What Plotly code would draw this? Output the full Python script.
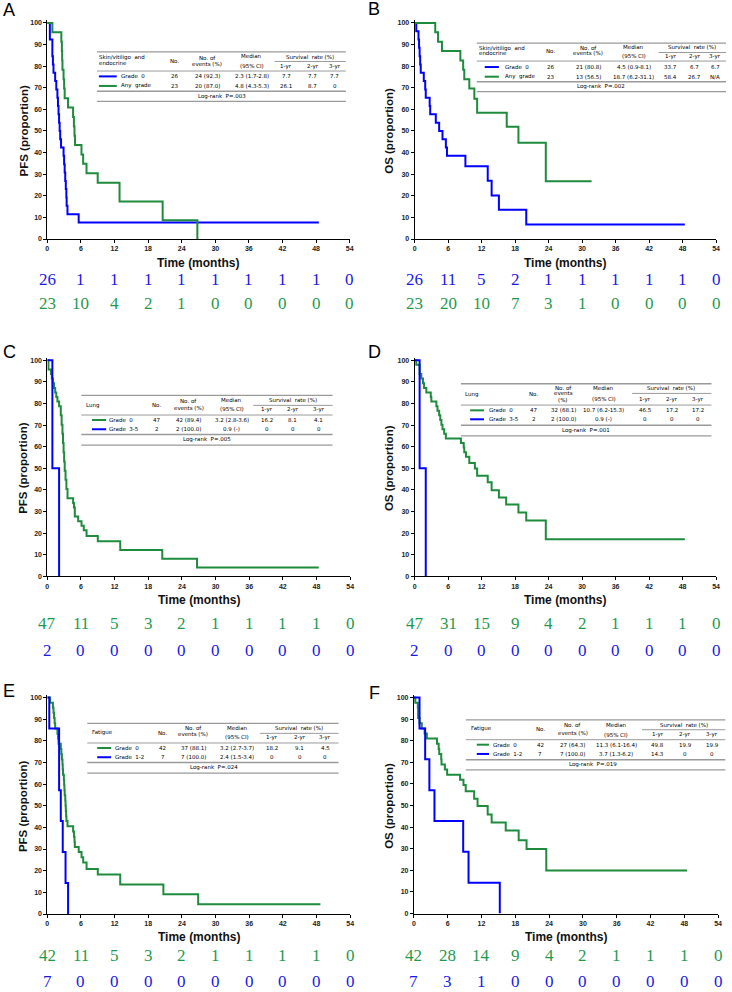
import plotly.graph_objects as go

W, H = 732, 992

# ---------------- DATA ----------------
time_ticks = [0, 6, 12, 18, 24, 30, 36, 42, 48, 54]
surv_ticks = [0, 10, 20, 30, 40, 50, 60, 70, 80, 90, 100]

# Panel A (PFS, skin/vitiligo & endocrine)
A_g0_t = [0, 0.45, 0.9, 1.0, 1.1, 1.4, 1.6, 1.8, 1.9, 2.0, 2.1, 2.2, 2.3, 2.45, 2.9, 3.0, 3.1, 3.2, 3.3, 3.4, 3.45, 3.6, 5.6, 48.5]
A_g0_s = [100, 92.3, 84.6, 80.8, 76.9, 73.1, 69.2, 65.4, 61.5, 57.7, 53.8, 50.0, 46.2, 42.3, 38.5, 34.6, 30.8, 26.9, 23.1, 19.2, 15.4, 11.5, 7.7, 7.7]
A_any_t = [0, 0.9, 2.5, 2.6, 2.65, 2.7, 2.9, 3.0, 3.1, 3.7, 4.6, 4.75, 4.85, 4.95, 6.1, 6.4, 7.0, 9.0, 12.9, 20.6, 26.8]
A_any_s = [100, 95.7, 91.3, 87.0, 82.6, 78.3, 73.9, 69.6, 65.2, 60.9, 56.5, 52.2, 47.8, 43.5, 39.1, 34.8, 30.4, 26.1, 17.4, 8.7, 0]
A_risk_g0 = [26, 1, 1, 1, 1, 1, 1, 1, 1, 0]
A_risk_any = [23, 10, 4, 2, 1, 0, 0, 0, 0, 0]

# Panel B (OS, skin/vitiligo & endocrine)
B_g0_t = [0, 0.3, 0.7, 0.8, 0.9, 1.0, 1.1, 1.65, 1.9, 2.0, 2.7, 2.8, 3.8, 4.4, 5.0, 5.6, 5.8, 9.1, 13.1, 13.8, 15.1, 20.0, 48.4]
B_g0_s = [100, 96.2, 92.3, 88.5, 84.6, 80.8, 76.9, 73.1, 69.2, 65.4, 61.5, 57.7, 53.8, 50.0, 46.2, 42.3, 38.5, 33.7, 27.0, 20.2, 13.5, 6.7, 6.7]
B_any_t = [0, 3.7, 4.2, 4.9, 8.2, 8.7, 8.9, 9.8, 10.7, 11.2, 16.5, 18.6, 23.5, 31.7]
B_any_s = [100, 95.7, 91.3, 87.0, 82.6, 78.3, 73.9, 69.6, 64.9, 58.4, 51.9, 44.5, 26.7, 26.7]
B_risk_g0 = [26, 11, 5, 2, 1, 1, 1, 1, 1, 0]
B_risk_any = [23, 20, 10, 7, 3, 1, 0, 0, 0, 0]

# Panel C (PFS, lung)
C_g0_t = [0, 0.2, 0.65, 0.8, 1.0, 1.2, 1.4, 1.6, 1.8, 2.1, 2.4, 2.55, 2.7, 2.8, 2.9, 3.0, 3.1, 3.25, 3.4, 3.6, 4.6, 4.75, 4.9, 5.5, 6.1, 6.5, 7.0, 9.0, 13.0, 20.5, 26.7, 48.4]
C_g0_s = [100, 95.7, 93.6, 91.5, 89.4, 87.2, 85.1, 83.0, 80.9, 78.7, 74.5, 70.2, 66.0, 61.7, 57.4, 53.2, 48.9, 44.7, 40.4, 36.2, 34.0, 31.9, 27.7, 25.5, 23.4, 21.3, 18.7, 16.2, 12.2, 8.1, 4.1, 4.1]
C_g35_t = [0, 0.9, 2.1]
C_g35_s = [100, 50, 0]
C_risk_g0 = [47, 11, 5, 3, 2, 1, 1, 1, 1, 0]
C_risk_g35 = [2, 0, 0, 0, 0, 0, 0, 0, 0, 0]

# Panel D (OS, lung)
D_g0_t = [0, 0.3, 0.9, 1.2, 1.5, 1.7, 2.1, 2.9, 3.0, 3.9, 4.1, 4.4, 4.6, 4.8, 5.0, 5.3, 5.6, 8.3, 8.8, 8.9, 9.2, 9.8, 10.8, 11.2, 13.1, 13.8, 15.1, 16.4, 18.6, 20.0, 23.5, 48.4]
D_g0_s = [100, 97.9, 93.6, 91.5, 89.4, 87.2, 85.1, 83.0, 80.9, 78.7, 76.6, 74.5, 72.3, 70.2, 68.1, 66.0, 63.8, 61.7, 59.6, 57.4, 55.3, 52.5, 49.9, 46.5, 43.5, 39.9, 36.5, 33.2, 29.5, 25.9, 17.2, 17.2]
D_g35_t = [0, 0.9, 2.0]
D_g35_s = [100, 50, 0]
D_risk_g0 = [47, 31, 15, 9, 4, 2, 1, 1, 1, 0]
D_risk_g35 = [2, 0, 0, 0, 0, 0, 0, 0, 0, 0]

# Panel E (PFS, fatigue)
E_g0_t = [0, 0.5, 1.0, 1.1, 1.2, 1.3, 1.4, 1.8, 1.9, 2.0, 2.4, 2.5, 2.6, 2.7, 2.75, 2.8, 2.95, 3.0, 3.05, 3.1, 3.2, 3.25, 3.3, 3.35, 3.4, 3.6, 4.6, 4.75, 4.85, 4.9, 5.6, 6.1, 6.4, 7.0, 9.0, 13.0, 20.7, 26.9, 48.7]
E_g0_s = [100, 97.6, 95.2, 92.9, 90.5, 88.1, 85.7, 83.3, 81.0, 78.6, 76.2, 73.8, 71.4, 69.0, 66.7, 64.3, 61.9, 59.5, 57.1, 54.8, 52.4, 50.0, 47.6, 45.2, 42.9, 40.5, 38.1, 35.7, 33.3, 31.0, 28.6, 26.2, 23.8, 20.8, 18.2, 13.6, 9.1, 4.5, 4.5]
E_g12_t = [0, 0.35, 2.1, 2.4, 2.75, 3.25, 3.7]
E_g12_s = [100, 85.7, 57.1, 42.9, 28.6, 14.3, 0]
E_risk_g0 = [42, 11, 5, 3, 2, 1, 1, 1, 1, 0]
E_risk_g12 = [7, 0, 0, 0, 0, 0, 0, 0, 0, 0]

# Panel F (OS, fatigue)
F_g0_t = [0, 0.25, 0.7, 0.75, 1.0, 1.4, 1.9, 2.3, 4.1, 4.4, 4.5, 4.85, 4.9, 5.5, 5.9, 8.2, 8.8, 9.2, 10.7, 11.3, 13.1, 13.8, 16.3, 18.6, 20.0, 23.5, 48.5]
F_g0_s = [100, 97.6, 95.2, 90.5, 88.1, 85.7, 83.3, 81.0, 78.6, 76.2, 73.8, 71.4, 69.0, 66.7, 64.3, 61.9, 59.5, 56.6, 53.2, 49.8, 45.9, 42.2, 38.4, 34.0, 29.9, 19.9, 19.9]
F_g12_t = [0, 1.0, 2.0, 2.75, 3.65, 8.75, 9.7, 15.25]
F_g12_s = [100, 85.7, 71.4, 57.1, 42.9, 28.6, 14.3, 0]
F_risk_g0 = [42, 28, 14, 9, 4, 2, 1, 1, 1, 0]
F_risk_g12 = [7, 3, 1, 0, 0, 0, 0, 0, 0, 0]

# Table contents
A_title = ["Skin/vitiligo  and", "endocrine"]
A_rows = [["Grade  0", "26", "24 (92.3)", "2.3 (1.7-2.8)", "7.7", "7.7", "7.7"],
          ["Any  grade", "23", "20 (87.0)", "4.8 (4.3-5.3)", "26.1", "8.7", "0"]]
A_p = "Log-rank  P=.003"
B_title = ["Skin/vitiligo  and", "endocrine"]
B_rows = [["Grade  0", "26", "21 (80.8)", "4.5 (0.9-8.1)", "33.7", "6.7", "6.7"],
          ["Any  grade", "23", "13 (56.5)", "18.7 (6.2-31.1)", "58.4", "26.7", "N/A"]]
B_p = "Log-rank  P=.002"
C_title = ["Lung"]
C_rows = [["Grade  0", "47", "42 (89.4)", "3.2 (2.8-3.6)", "16.2", "8.1", "4.1"],
          ["Grade  3-5", "2", "2 (100.0)", "0.9 (-)", "0", "0", "0"]]
C_p = "Log-rank  P=.005"
D_title = ["Lung"]
D_rows = [["Grade  0", "47", "32 (68.1)", "10.7 (6.2-15.3)", "46.5", "17.2", "17.2"],
          ["Grade  3-5", "2", "2 (100.0)", "0.9 (-)", "0", "0", "0"]]
D_p = "Log-rank  P=.001"
E_title = ["Fatigue"]
E_rows = [["Grade  0", "42", "37 (88.1)", "3.2 (2.7-3.7)", "18.2", "9.1", "4.5"],
          ["Grade  1-2", "7", "7 (100.0)", "2.4 (1.5-3.4)", "0", "0", "0"]]
E_p = "Log-rank  P=.024"
F_title = ["Fatigue"]
F_rows = [["Grade  0", "42", "27 (64.3)", "11.3 (6.1-16.4)", "49.8", "19.9", "19.9"],
          ["Grade  1-2", "7", "7 (100.0)", "3.7 (1.3-6.2)", "14.3", "0", "0"]]
F_p = "Log-rank  P=.019"

# ---------------- STYLE / LAYOUT ----------------
BLUE = "#0000ff"
GREEN = "#1e8c3c"
BLUE_T = "#1a1ae6"
GREEN_T = "#1f9a4c"
TBL_FONT = dict(family="DejaVu Sans", size=5.5, color="#000000")


def fx(p):
    return p / W


def fy(p):
    return 1 - p / H


panels = [
    dict(label="A", lab=(7, 9), yt="PFS (proportion)", ytx=21.7,
         box=(45.7, 350.5, 22, 239), timey=263,
         curves=[(A_g0_t, A_g0_s, BLUE), (A_any_t, A_any_s, GREEN)],
         risk=[(A_risk_g0, BLUE_T, 279.5), (A_risk_any, GREEN_T, 304)],
         tbl=dict(title=A_title, rows=A_rows, p=A_p, colors=[BLUE, GREEN],
                  left=95.7, right=346.7, top=51, title_x=96.7, title_y=[57.0, 62.0],
                  no=(174, [60.7]), ev=(206.7, ["No. of", "events (%)"], [57.3, 63]),
                  med=(252, [55.7, 65]), sv=(311, 56), sub=(60.7, 275),
                  yrs=[286.7, 313.3, 335.7], yry=65.3, hline=70.3, rows_y=[75.7, 85.3],
                  leg=(97.7, 115.7), labx=119, line2=90.7, px=221.7, py=95.5, bottom=100.7)),
    dict(label="B", lab=(375, 8), yt="OS (proportion)", ytx=390,
         box=(416, 720, 22, 239), timey=263,
         curves=[(B_g0_t, B_g0_s, BLUE), (B_any_t, B_any_s, GREEN)],
         risk=[(B_risk_g0, BLUE_T, 279.5), (B_risk_any, GREEN_T, 304)],
         tbl=dict(title=B_title, rows=B_rows, p=B_p, colors=[BLUE, GREEN],
                  left=478.7, right=730, top=42.3, title_x=479.7, title_y=[47.5, 52.5],
                  no=(552.7, [50]), ev=(591, ["No. of", "events (%)"], [47.5, 52.5]),
                  med=(637, [46, 55.7]), sv=(696, 46), sub=(51.7, 662),
                  yrs=[674.3, 698.3, 719.3], yry=55.7, hline=60.3, rows_y=[66.3, 76],
                  leg=(486.7, 501), labx=506, line2=81, px=604.3, py=85.7, bottom=91)),
    dict(label="C", lab=(7.5, 352), yt="PFS (proportion)", ytx=21.7,
         box=(45.7, 351, 360.7, 577.7), timey=601.7,
         curves=[(C_g0_t, C_g0_s, GREEN), (C_g35_t, C_g35_s, BLUE)],
         risk=[(C_risk_g0, GREEN_T, 625), (C_risk_g35, BLUE_T, 652.5)],
         tbl=dict(title=C_title, rows=C_rows, p=C_p, colors=[GREEN, BLUE],
                  left=80, right=333.3, top=396, title_x=83.3, title_y=[405.7],
                  no=(156, [405.7]), ev=(188.3, ["No. of", "events (%)"], [401.3, 408.7]),
                  med=(231.7, [400.7, 410]), sv=(293.3, 400.7), sub=(406, 253.3),
                  yrs=[266.7, 293.3, 319.3], yry=410, hline=415.7, rows_y=[420.7, 430],
                  leg=(90.7, 105), labx=107.3, line2=435.3, px=206.7, py=440.7, bottom=446)),
    dict(label="D", lab=(376, 352), yt="OS (proportion)", ytx=391,
         box=(416, 720, 360.7, 577.7), timey=601.7,
         curves=[(D_g0_t, D_g0_s, GREEN), (D_g35_t, D_g35_s, BLUE)],
         risk=[(D_risk_g0, GREEN_T, 625), (D_risk_g35, BLUE_T, 652.5)],
         tbl=dict(title=D_title, rows=D_rows, p=D_p, colors=[GREEN, BLUE],
                  left=462.7, right=715.3, top=384.3, title_x=466, title_y=[395],
                  no=(536, [395]), ev=(566, ["No. of", "events", "(%)"], [388.3, 394.0, 400.5]),
                  med=(606.5, [388.3, 400]), sv=(674.3, 389), sub=(394, 635.3),
                  yrs=[648.7, 676, 702], yry=400, hline=405.7, rows_y=[411, 420],
                  leg=(472, 486), labx=490, line2=426, px=589.3, py=431.3, bottom=436.7)),
    dict(label="E", lab=(7.5, 693), yt="PFS (proportion)", ytx=20.5,
         box=(45.7, 351, 699.3, 916.7), timey=940,
         curves=[(E_g0_t, E_g0_s, GREEN), (E_g12_t, E_g12_s, BLUE)],
         risk=[(E_risk_g0, GREEN_T, 958.5), (E_risk_g12, BLUE_T, 984.5)],
         tbl=dict(title=E_title, rows=E_rows, p=E_p, colors=[GREEN, BLUE],
                  left=86, right=339.3, top=725.3, title_x=89.3, title_y=[734.7],
                  no=(162.3, [734.7]), ev=(192.7, ["No. of", "events (%)"], [730.3, 735.9]),
                  med=(237.3, [730, 739.3]), sv=(299.3, 730), sub=(735.3, 260),
                  yrs=[272.7, 300, 326], yry=739.7, hline=745, rows_y=[750, 759.3],
                  leg=(96, 110), labx=113.3, line2=764.7, px=213.3, py=770, bottom=775.3)),
    dict(label="F", lab=(376, 695), yt="OS (proportion)", ytx=389.5,
         box=(415.3, 722, 699.3, 916.3), timey=940,
         curves=[(F_g0_t, F_g0_s, GREEN), (F_g12_t, F_g12_s, BLUE)],
         risk=[(F_risk_g0, GREEN_T, 958.5), (F_risk_g12, BLUE_T, 984.5)],
         tbl=dict(title=F_title, rows=F_rows, p=F_p, colors=[GREEN, BLUE],
                  left=467.7, right=729.3, top=721.7, title_x=472, title_y=[730.7],
                  no=(542.7, [730.7]), ev=(575.3, ["No. of", "events (%)"], [727.3, 735]),
                  med=(619.3, [726.7, 736.7]), sv=(687.7, 726.7), sub=(731.7, 645.3),
                  yrs=[661, 688.7, 716], yry=736.7, hline=741.7, rows_y=[746.7, 756],
                  leg=(478.7, 491), labx=494.3, line2=761.7, px=596, py=766.7, bottom=772)),
]

fig = go.Figure()
annotations = []
shapes = []
layout_axes = {}


def ann(text, x, y, font, xref="paper", anchor="center", angle=0):
    annotations.append(dict(text=text, x=x, y=y, xref=xref, yref="paper", showarrow=False,
                            xanchor=anchor, yanchor="middle", textangle=angle, font=font,
                            borderpad=0))


for i, pn in enumerate(panels, start=1):
    x0, x1, yt, yb = pn["box"]
    unit = (yb - yt) / 100.0
    xa = "xaxis" if i == 1 else f"xaxis{i}"
    ya = "yaxis" if i == 1 else f"yaxis{i}"
    xr = "x" if i == 1 else f"x{i}"
    yr = "y" if i == 1 else f"y{i}"
    layout_axes[xa] = dict(
        domain=[fx(x0), fx(x1)], range=[0, 54], tickvals=time_ticks, anchor=yr,
        showline=True, linecolor="black", linewidth=1, ticks="outside", ticklen=3,
        tickwidth=1, tickcolor="black", showgrid=False, zeroline=False,
        tickfont=dict(family="Liberation Sans", size=7, color="#222", weight="bold"))
    layout_axes[ya] = dict(
        domain=[fy(yb), fy(yt - unit * 1.2)], range=[0, 101.2], tickvals=surv_ticks, anchor=xr,
        showline=True, linecolor="black", linewidth=1, ticks="outside", ticklen=3,
        tickwidth=1, tickcolor="black", showgrid=False, zeroline=False,
        tickfont=dict(family="Liberation Sans", size=7, color="#222", weight="bold"))

    for (t, s, c) in pn["curves"]:
        fig.add_trace(go.Scatter(x=t, y=s, mode="lines", line=dict(color=c, width=2, shape="hv"),
                                 xaxis=xr, yaxis=yr, showlegend=False, hoverinfo="skip"))

    ann(pn["label"], fx(pn["lab"][0]), fy(pn["lab"][1]),
        dict(family="Liberation Sans", size=18, color="black"))
    ann(pn["yt"], fx(pn["ytx"]), fy((yt + yb) / 2),
        dict(family="Liberation Sans", size=11.5, color="#111", weight="bold"), angle=-90)
    ann("Time (months)", fx((x0 + x1) / 2), fy(pn["timey"]),
        dict(family="Liberation Sans", size=12, color="#111", weight="bold"))
    for vals, col, ry in pn["risk"]:
        for tv, v in zip(time_ticks, vals):
            ann(str(v), tv, fy(ry), dict(family="Liberation Serif", size=17, color=col), xref=xr)

    tb = pn["tbl"]

    def txt(s, x, y, anchor="center"):
        ann(s, fx(x), fy(y), TBL_FONT, anchor=anchor)

    def hl(y, xa_, xb_, w=1, col="#9a9a9a"):
        shapes.append(dict(type="line", xref="paper", yref="paper", x0=fx(xa_), x1=fx(xb_),
                           y0=fy(y), y1=fy(y), line=dict(color=col, width=w)))

    hl(tb["top"], tb["left"], tb["right"], 1.3)
    hl(tb["sub"][0], tb["sub"][1], tb["right"], 1)
    hl(tb["hline"], tb["left"], tb["right"], 1)
    hl(tb["line2"], tb["left"], tb["right"], 1.5)
    hl(tb["bottom"], tb["left"], tb["right"], 1.3)
    for s_, y_ in zip(tb["title"], tb["title_y"]):
        txt(s_, tb["title_x"], y_, "left")
    for y_ in tb["no"][1]:
        txt("No.", tb["no"][0], y_)
    for s_, y_ in zip(tb["ev"][1], tb["ev"][2]):
        txt(s_, tb["ev"][0], y_)
    for s_, y_ in zip(["Median", "(95% CI)"], tb["med"][1]):
        txt(s_, tb["med"][0], y_)
    txt("Survival  rate (%)", tb["sv"][0], tb["sv"][1])
    for s_, x_ in zip(["1-yr", "2-yr", "3-yr"], tb["yrs"]):
        txt(s_, x_, tb["yry"])
    colx = [tb["no"][0], tb["ev"][0], tb["med"][0]] + tb["yrs"]
    for row, ry, col in zip(tb["rows"], tb["rows_y"], tb["colors"]):
        shapes.append(dict(type="line", xref="paper", yref="paper", x0=fx(tb["leg"][0]),
                           x1=fx(tb["leg"][1]), y0=fy(ry), y1=fy(ry),
                           line=dict(color=col, width=2)))
        txt(row[0], tb["labx"], ry, "left")
        for v, x_ in zip(row[1:], colx):
            txt(v, x_, ry)
    txt(tb["p"], tb["px"], tb["py"])

fig.update_layout(
    width=W, height=H, autosize=False,
    margin=dict(l=0, r=0, t=0, b=0),
    paper_bgcolor="white", plot_bgcolor="white",
    annotations=annotations, shapes=shapes, showlegend=False,
    **layout_axes)

fig.write_html("out.html", config={"displayModeBar": False},
               post_script="document.body.style.margin='0';")
